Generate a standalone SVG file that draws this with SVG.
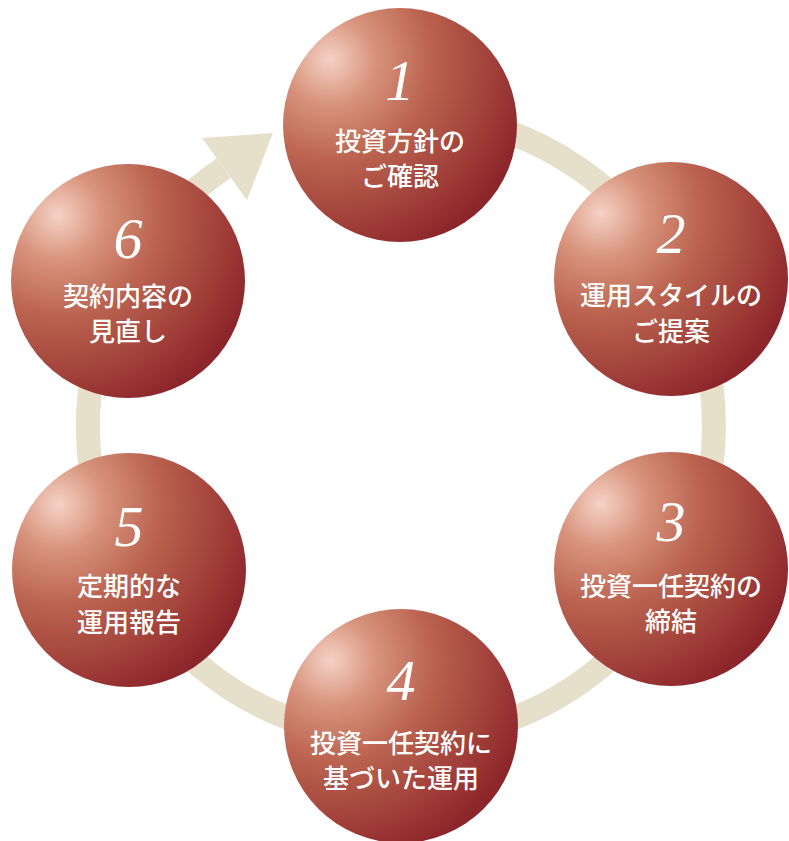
<svg xmlns="http://www.w3.org/2000/svg" width="789" height="841" viewBox="0 0 789 841">
  <defs>
    <radialGradient id="ball" cx="0.2" cy="0.22" r="0.95" fx="0.2" fy="0.22">
      <stop offset="0" stop-color="#f5d2c6"/>
      <stop offset="0.2" stop-color="#d8947d"/>
      <stop offset="0.45" stop-color="#bb6450"/>
      <stop offset="0.72" stop-color="#a2413a"/>
      <stop offset="0.92" stop-color="#8e272b"/>
      <stop offset="1" stop-color="#882227"/>
    </radialGradient>
  </defs>
  <style>
    .ring { fill: none; stroke: #e6dfc9; stroke-width: 24; }
    .arrowhead { fill: #e6dfc9; }
    .ball { fill: url(#ball); }
    .num { font-family: "Liberation Serif", "DejaVu Serif", serif; font-style: italic; font-size: 58px; fill: #ffffff; text-anchor: middle; }
    .lbl { font-family: "Noto Sans CJK JP", "Noto Sans", sans-serif; font-weight: 500; font-size: 26px; fill: #ffffff; text-anchor: middle; }
  </style>
  <rect width="789" height="841" fill="#ffffff"/>
  <g id="connectors">
    <path class="ring" d="M 455.4 117.8 A 313 313 0 1 1 223.7 168"/>
    <polygon class="arrowhead" points="202,138 273,133 247,200"/>
  </g>
  <g id="node1">
    <circle class="ball" cx="400" cy="125" r="117"/>
    <text class="num" x="400" y="100">1</text>
    <text class="lbl" x="400" y="151">投資方針の</text>
    <text class="lbl" x="400" y="186">ご確認</text>
  </g>
  <g id="node2">
    <circle class="ball" cx="671" cy="279" r="117"/>
    <text class="num" x="671" y="253">2</text>
    <text class="lbl" x="671" y="305">運用スタイルの</text>
    <text class="lbl" x="671" y="341">ご提案</text>
  </g>
  <g id="node3">
    <circle class="ball" cx="671" cy="569" r="117"/>
    <text class="num" x="671" y="541">3</text>
    <text class="lbl" x="671" y="596">投資一任契約の</text>
    <text class="lbl" x="671" y="631">締結</text>
  </g>
  <g id="node4">
    <circle class="ball" cx="401" cy="726" r="117"/>
    <text class="num" x="401" y="700">4</text>
    <text class="lbl" x="401" y="753">投資一任契約に</text>
    <text class="lbl" x="401" y="788">基づいた運用</text>
  </g>
  <g id="node5">
    <circle class="ball" cx="129" cy="570" r="117"/>
    <text class="num" x="129" y="546">5</text>
    <text class="lbl" x="129" y="596">定期的な</text>
    <text class="lbl" x="129" y="632">運用報告</text>
  </g>
  <g id="node6">
    <circle class="ball" cx="128" cy="281" r="117"/>
    <text class="num" x="128" y="258">6</text>
    <text class="lbl" x="128" y="306">契約内容の</text>
    <text class="lbl" x="128" y="341">見直し</text>
  </g>
</svg>
